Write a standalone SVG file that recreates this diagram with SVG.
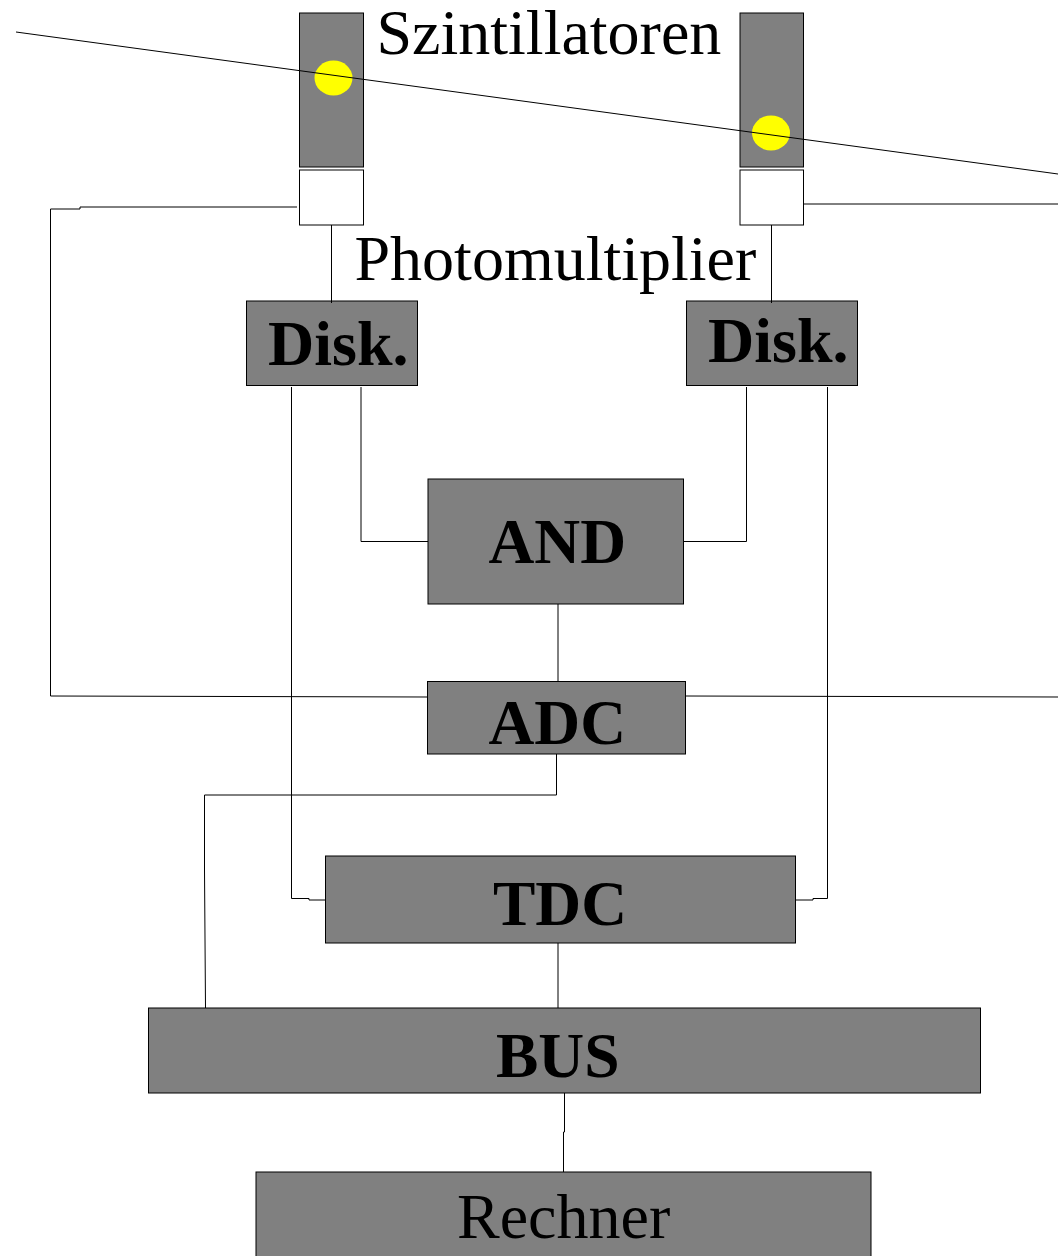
<svg xmlns="http://www.w3.org/2000/svg" width="1058" height="1256" viewBox="0 0 1058 1256">
<style>
.b{fill:#808080;stroke:#000;stroke-width:1}
.w{fill:#fff;stroke:#000;stroke-width:1}
.y{fill:#ffff00;stroke:none}
.c{fill:none;stroke:#000;stroke-width:1}
text{font-family:"Liberation Serif","Times New Roman",serif;fill:#000}
.l{font-size:64px}
.h{font-size:64px;font-weight:bold}
.s{font-size:63.500px;font-weight:bold}
</style>
<rect width="1058" height="1256" fill="#fff"/>
<g id="szint1"><rect class="b" x="299.500" y="13" width="64" height="154"/></g>
<g id="szint2"><rect class="b" x="740" y="13" width="63.500" height="154"/></g>
<g id="hit1"><ellipse class="y" cx="333.500" cy="78" rx="19" ry="17.500"/></g>
<g id="hit2"><ellipse class="y" cx="771" cy="133" rx="19" ry="17.500"/></g>
<g id="pm1"><rect class="w" x="299.500" y="170" width="64" height="55"/></g>
<g id="pm2"><rect class="w" x="740" y="170" width="63.500" height="55"/></g>
<g id="label-szint"><text class="l" x="376.500" y="54">Szintillatoren</text></g>
<g id="label-pm"><text class="l" x="354.500" y="280">Photomultiplier</text></g>
<g id="disk1"><rect class="b" x="246.500" y="301" width="171" height="84.500"/><text class="h" x="268" y="364.500">Disk.</text></g>
<g id="disk2"><rect class="b" x="686.500" y="301" width="171" height="84.500"/><text class="h" x="708" y="361.500">Disk.</text></g>
<g id="and"><rect class="b" x="428" y="479" width="255.500" height="125"/><text class="s" x="488.500" y="563">AND</text></g>
<g id="adc"><rect class="b" x="427.500" y="681.500" width="258" height="72.500"/><text class="s" x="488.500" y="744">ADC</text></g>
<g id="tdc"><rect class="b" x="325.500" y="856" width="470" height="87"/><text class="s" x="493" y="924.500">TDC</text></g>
<g id="bus"><rect class="b" x="148.500" y="1008" width="832" height="85"/><text class="s" x="496" y="1077">BUS</text></g>
<g id="rechner"><rect class="b" x="256" y="1172" width="615" height="90"/><text class="l" x="457" y="1238">Rechner</text></g>
<g id="connectors">
<path class="c" d="M16 32L1058 174"/>
<path class="c" d="M297 207H80V209H50.500V696L427 697"/>
<path class="c" d="M804 204H1058"/>
<path class="c" d="M331.500 225V303"/>
<path class="c" d="M771.500 225V303"/>
<path class="c" d="M361 387V541.500H428"/>
<path class="c" d="M746.500 387V541.500H684"/>
<path class="c" d="M558 604V681"/>
<path class="c" d="M686 696L1058 697"/>
<path class="c" d="M291.500 387V898.500H309V900H325"/>
<path class="c" d="M827.500 387V898.500H813V900H796"/>
<path class="c" d="M556.500 754V795H204.500V870L205.500 1008"/>
<path class="c" d="M558 943V1008"/>
<path class="c" d="M564.500 1093V1132H563.500V1172"/>
</g>
</svg>
